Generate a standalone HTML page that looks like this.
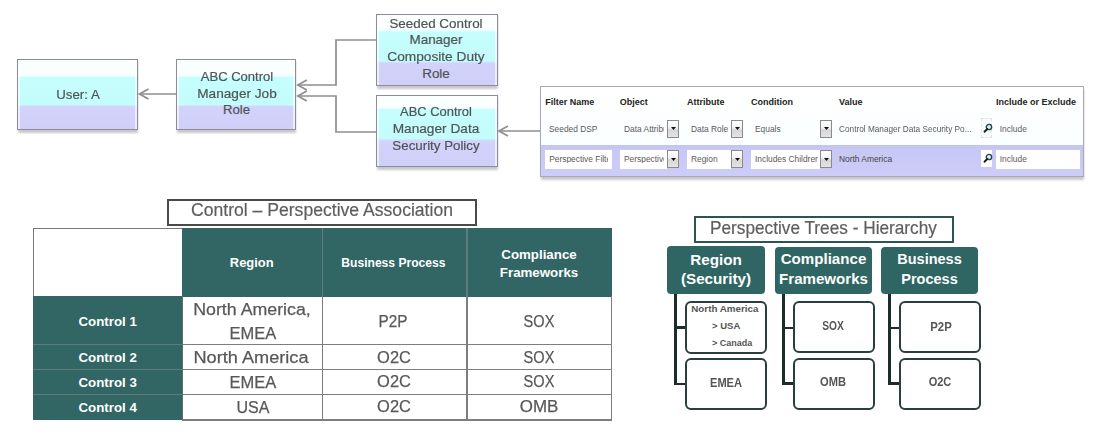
<!DOCTYPE html>
<html><head><meta charset="utf-8"><style>
html,body{margin:0;padding:0;}
body{width:1101px;height:436px;position:relative;overflow:hidden;background:#fff;font-family:"Liberation Sans",sans-serif;}
.t{position:absolute;line-height:1;white-space:nowrap;}
.r{position:absolute;}
svg.r{overflow:visible;}
</style></head><body>
<div class="r" style="left:18px;top:61px;width:120px;height:72px;background:#c8c8cc;filter:blur(0.8px);"></div>
<div class="r" style="left:17px;top:59px;width:121px;height:71px;background:linear-gradient(to bottom,#fcffff 0%,#f8fefe 22.4%,#c6fefe 25.4%,#c4fcfc 64.7%,#d2d2fc 67.7%,#cfcff8 100%);border:1.5px solid #8c8c9a;box-sizing:border-box;box-shadow:inset 3px 0 0 -1px rgba(255,255,255,.6), inset -3px 0 0 -1px rgba(255,255,255,.6);"></div>
<div class="t" style="left:7.5px;top:87.5px;width:140px;text-align:center;font-size:13.4px;font-weight:400;color:#4f5555;transform:scaleX(0.991);transform-origin:center top;-webkit-text-stroke:0.2px #4f5555;">User: A</div>
<div class="r" style="left:177px;top:61px;width:119px;height:72px;background:#c8c8cc;filter:blur(0.8px);"></div>
<div class="r" style="left:176px;top:59px;width:120px;height:71px;background:linear-gradient(to bottom,#fcffff 0%,#f8fefe 22.4%,#c6fefe 25.4%,#c4fcfc 64.7%,#d2d2fc 67.7%,#cfcff8 100%);border:1.5px solid #8c8c9a;box-sizing:border-box;box-shadow:inset 3px 0 0 -1px rgba(255,255,255,.6), inset -3px 0 0 -1px rgba(255,255,255,.6);"></div>
<div class="t" style="left:166.5px;top:70.2px;width:140px;text-align:center;font-size:13.2px;font-weight:400;color:#4f5555;transform:scaleX(0.988);transform-origin:center top;-webkit-text-stroke:0.2px #4f5555;">ABC Control</div>
<div class="t" style="left:166.5px;top:86.7px;width:140px;text-align:center;font-size:13.2px;font-weight:400;color:#4f5555;transform:scaleX(1.033);transform-origin:center top;-webkit-text-stroke:0.2px #4f5555;">Manager Job</div>
<div class="t" style="left:166.5px;top:103.2px;width:140px;text-align:center;font-size:13.2px;font-weight:400;color:#4f5555;-webkit-text-stroke:0.2px #4f5555;">Role</div>
<div class="r" style="left:377px;top:16px;width:121px;height:73px;background:#c8c8cc;filter:blur(0.8px);"></div>
<div class="r" style="left:376px;top:14px;width:122px;height:72px;background:linear-gradient(to bottom,#fcffff 0%,#f8fefe 21.4%,#c6fefe 24.4%,#c4fcfc 65.9%,#d2d2fc 68.9%,#cfcff8 100%);border:1.5px solid #8c8c9a;box-sizing:border-box;box-shadow:inset 3px 0 0 -1px rgba(255,255,255,.6), inset -3px 0 0 -1px rgba(255,255,255,.6);"></div>
<div class="t" style="left:366.0px;top:16.7px;width:140px;text-align:center;font-size:13.4px;font-weight:400;color:#4f5555;transform:scaleX(1.001);transform-origin:center top;-webkit-text-stroke:0.2px #4f5555;">Seeded Control</div>
<div class="t" style="left:366.0px;top:33.3px;width:140px;text-align:center;font-size:13.4px;font-weight:400;color:#4f5555;-webkit-text-stroke:0.2px #4f5555;">Manager</div>
<div class="t" style="left:366.0px;top:49.9px;width:140px;text-align:center;font-size:13.4px;font-weight:400;color:#4f5555;transform:scaleX(1.023);transform-origin:center top;-webkit-text-stroke:0.2px #4f5555;">Composite Duty</div>
<div class="t" style="left:366.0px;top:66.5px;width:140px;text-align:center;font-size:13.4px;font-weight:400;color:#4f5555;-webkit-text-stroke:0.2px #4f5555;">Role</div>
<div class="r" style="left:377px;top:97px;width:121px;height:73px;background:#c8c8cc;filter:blur(0.8px);"></div>
<div class="r" style="left:376px;top:95px;width:122px;height:72px;background:linear-gradient(to bottom,#fcffff 0%,#f8fefe 16.6%,#c6fefe 19.6%,#c4fcfc 61.0%,#d2d2fc 64.0%,#cfcff8 100%);border:1.5px solid #8c8c9a;box-sizing:border-box;box-shadow:inset 3px 0 0 -1px rgba(255,255,255,.6), inset -3px 0 0 -1px rgba(255,255,255,.6);"></div>
<div class="t" style="left:366.0px;top:105.4px;width:140px;text-align:center;font-size:13.4px;font-weight:400;color:#4f5555;transform:scaleX(0.965);transform-origin:center top;-webkit-text-stroke:0.2px #4f5555;">ABC Control</div>
<div class="t" style="left:366.0px;top:122.0px;width:140px;text-align:center;font-size:13.4px;font-weight:400;color:#4f5555;transform:scaleX(1.021);transform-origin:center top;-webkit-text-stroke:0.2px #4f5555;">Manager Data</div>
<div class="t" style="left:366.0px;top:138.6px;width:140px;text-align:center;font-size:13.4px;font-weight:400;color:#4f5555;transform:scaleX(0.994);transform-origin:center top;-webkit-text-stroke:0.2px #4f5555;">Security Policy</div>
<svg class="r" style="left:0;top:0" width="1101" height="436"><polyline points="176,94 140,94" fill="none" stroke="#8e8e8e" stroke-width="1.7"/><polyline points="148.5,89 139.5,94 148.5,99" fill="none" stroke="#8e8e8e" stroke-width="1.7"/><polyline points="376,40 336,40 336,85 298,85" fill="none" stroke="#8e8e8e" stroke-width="1.7"/><polyline points="306.8,80 297.8,85 306.8,90" fill="none" stroke="#8e8e8e" stroke-width="1.7"/><polyline points="376,132 336,132 336,96 298,96" fill="none" stroke="#8e8e8e" stroke-width="1.7"/><polyline points="306.8,91 297.8,96 306.8,101" fill="none" stroke="#8e8e8e" stroke-width="1.7"/><polyline points="541,131 500,131" fill="none" stroke="#8e8e8e" stroke-width="1.7"/><polyline points="508,126 499,131 508,136" fill="none" stroke="#8e8e8e" stroke-width="1.7"/></svg>
<div class="r" style="left:541px;top:89px;width:543px;height:91px;background:#c8c8cc;filter:blur(0.8px);"></div>
<div class="r" style="left:540px;top:86px;width:544px;height:91px;background:linear-gradient(to bottom,#ffffff 0%,#fbffff 60%);border:1px solid #a8a8b4;box-sizing:border-box;"></div>
<div class="r" style="left:541px;top:144.5px;width:542px;height:31.5px;background:linear-gradient(to bottom,#c4c4f0 0,#c8c8f4 5px,#ceccf8 100%);"></div>
<div class="t" style="left:545.3px;top:98.0px;font-size:9px;font-weight:700;color:#222;">Filter Name</div>
<div class="t" style="left:619.8px;top:98.0px;font-size:9px;font-weight:700;color:#222;">Object</div>
<div class="t" style="left:687.0px;top:98.0px;font-size:9px;font-weight:700;color:#222;">Attribute</div>
<div class="t" style="left:751.0px;top:98.0px;font-size:9px;font-weight:700;color:#222;">Condition</div>
<div class="t" style="left:839.0px;top:98.0px;font-size:9px;font-weight:700;color:#222;">Value</div>
<div class="t" style="left:995.9px;top:98.0px;font-size:9px;font-weight:700;color:#222;">Include or Exclude</div>
<div class="t" style="left:549.0px;top:124.6px;font-size:8.4px;font-weight:400;color:#5a5a5a;">Seeded DSP</div>
<div class="t" style="left:624.0px;top:124.6px;font-size:8.4px;font-weight:400;color:#5a5a5a;width:40px;overflow:hidden;">Data Attribute</div>
<div class="t" style="left:691.0px;top:124.6px;font-size:8.4px;font-weight:400;color:#5a5a5a;">Data Role</div>
<div class="t" style="left:755.0px;top:124.6px;font-size:8.4px;font-weight:400;color:#5a5a5a;">Equals</div>
<div class="t" style="left:839.0px;top:124.6px;font-size:8.4px;font-weight:400;color:#5a5a5a;transform:scaleX(0.985);transform-origin:left top;">Control Manager Data Security Po...</div>
<div class="t" style="left:999.8px;top:124.6px;font-size:8.4px;font-weight:400;color:#5a5a5a;">Include</div>
<div class="r" style="left:545px;top:150px;width:67px;height:19px;background:#ffffff;"></div>
<div class="r" style="left:620px;top:150px;width:47px;height:19px;background:#ffffff;"></div>
<div class="r" style="left:687px;top:150px;width:44px;height:19px;background:#ffffff;"></div>
<div class="r" style="left:751px;top:150px;width:69px;height:19px;background:#ffffff;"></div>
<div class="r" style="left:996px;top:150px;width:84px;height:19px;background:#ffffff;"></div>
<div class="t" style="left:549.2px;top:155.0px;font-size:8.4px;font-weight:400;color:#5a5a5a;width:59px;overflow:hidden;white-space:nowrap;">Perspective Filter</div>
<div class="t" style="left:624.0px;top:155.0px;font-size:8.4px;font-weight:400;color:#5a5a5a;width:40px;overflow:hidden;">Perspective</div>
<div class="t" style="left:691.0px;top:155.0px;font-size:8.4px;font-weight:400;color:#5a5a5a;">Region</div>
<div class="t" style="left:755.0px;top:155.0px;font-size:8.4px;font-weight:400;color:#5a5a5a;width:63px;overflow:hidden;">Includes Children</div>
<div class="t" style="left:839.0px;top:155.0px;font-size:8.4px;font-weight:400;color:#444;">North America</div>
<div class="t" style="left:999.8px;top:155.0px;font-size:8.4px;font-weight:400;color:#5a5a5a;">Include</div>
<div class="r" style="left:667px;top:119.7px;width:12px;height:17.999999999999986px;background:linear-gradient(to bottom,#ffffff 0%,#f2f2f2 45%,#d6d6d6 55%,#e4e4e4 100%);border:1px solid #8a8a8a;box-sizing:border-box;"></div>
<svg class="r" style="left:670.5px;top:127.2px" width="6" height="4"><polygon points="0,0 5,0 2.5,3" fill="#111"/></svg>
<div class="r" style="left:667px;top:150.2px;width:12px;height:17.5px;background:linear-gradient(to bottom,#ffffff 0%,#f2f2f2 45%,#d6d6d6 55%,#e4e4e4 100%);border:1px solid #8a8a8a;box-sizing:border-box;"></div>
<svg class="r" style="left:670.5px;top:157.7px" width="6" height="4"><polygon points="0,0 5,0 2.5,3" fill="#111"/></svg>
<div class="r" style="left:731px;top:119.7px;width:12px;height:17.999999999999986px;background:linear-gradient(to bottom,#ffffff 0%,#f2f2f2 45%,#d6d6d6 55%,#e4e4e4 100%);border:1px solid #8a8a8a;box-sizing:border-box;"></div>
<svg class="r" style="left:734.5px;top:127.2px" width="6" height="4"><polygon points="0,0 5,0 2.5,3" fill="#111"/></svg>
<div class="r" style="left:731px;top:150.2px;width:12px;height:17.5px;background:linear-gradient(to bottom,#ffffff 0%,#f2f2f2 45%,#d6d6d6 55%,#e4e4e4 100%);border:1px solid #8a8a8a;box-sizing:border-box;"></div>
<svg class="r" style="left:734.5px;top:157.7px" width="6" height="4"><polygon points="0,0 5,0 2.5,3" fill="#111"/></svg>
<div class="r" style="left:820px;top:119.7px;width:12px;height:17.999999999999986px;background:linear-gradient(to bottom,#ffffff 0%,#f2f2f2 45%,#d6d6d6 55%,#e4e4e4 100%);border:1px solid #8a8a8a;box-sizing:border-box;"></div>
<svg class="r" style="left:823.5px;top:127.2px" width="6" height="4"><polygon points="0,0 5,0 2.5,3" fill="#111"/></svg>
<div class="r" style="left:820px;top:150.2px;width:12px;height:17.5px;background:linear-gradient(to bottom,#ffffff 0%,#f2f2f2 45%,#d6d6d6 55%,#e4e4e4 100%);border:1px solid #8a8a8a;box-sizing:border-box;"></div>
<svg class="r" style="left:823.5px;top:157.7px" width="6" height="4"><polygon points="0,0 5,0 2.5,3" fill="#111"/></svg>
<div class="r" style="left:981px;top:118px;width:11px;height:20px;background:#f7fafa;border:1px dashed #dde4e4;box-sizing:border-box;"></div>
<svg class="r" style="left:981.7px;top:122.2px" width="12" height="12"><circle cx="7" cy="5" r="2.7" fill="#d4eeee" stroke="#21424a" stroke-width="1.3"/><line x1="5.3" y1="7" x2="2.5" y2="9.7" stroke="#1a1a1a" stroke-width="1.9" stroke-linecap="round"/></svg>
<div class="r" style="left:981px;top:149.7px;width:11px;height:17.0px;background:#ffffff;"></div>
<svg class="r" style="left:981.7px;top:152.3px" width="12" height="12"><circle cx="7" cy="5" r="2.7" fill="#d4eeee" stroke="#21424a" stroke-width="1.3"/><line x1="5.3" y1="7" x2="2.5" y2="9.7" stroke="#1a1a1a" stroke-width="1.9" stroke-linecap="round"/></svg>
<div class="r" style="left:167px;top:199px;width:310px;height:26.5px;border:2px solid #4a4a4a;box-sizing:border-box;background:#fff;"></div>
<div class="t" style="left:191.3px;top:201.0px;font-size:18px;font-weight:400;color:#5e5e5e;transform:scaleX(0.977);transform-origin:left top;-webkit-text-stroke:0.2px #5e5e5e;">Control – Perspective Association</div>
<div class="r" style="left:33px;top:228px;width:579px;height:193px;background:#fff;"></div>
<div class="r" style="left:33px;top:228px;width:150px;height:68px;border-left:1.5px solid #777;border-top:1.5px solid #777;box-sizing:border-box;"></div>
<div class="r" style="left:182px;top:228px;width:430px;height:69px;background:#316664;"></div>
<div class="r" style="left:33px;top:296px;width:150px;height:124.30000000000001px;background:#316664;"></div>
<div class="r" style="left:183px;top:343.7px;width:429px;height:1.6000000000000227px;background:#7e7e7e;"></div>
<div class="r" style="left:33px;top:343.8px;width:150px;height:1.3999999999999773px;background:#5a7c7a;"></div>
<div class="r" style="left:183px;top:368.9px;width:429px;height:1.6000000000000227px;background:#7e7e7e;"></div>
<div class="r" style="left:33px;top:369.0px;width:150px;height:1.3999999999999773px;background:#5a7c7a;"></div>
<div class="r" style="left:183px;top:393.8px;width:429px;height:1.6000000000000227px;background:#7e7e7e;"></div>
<div class="r" style="left:33px;top:393.90000000000003px;width:150px;height:1.3999999999999773px;background:#5a7c7a;"></div>
<div class="r" style="left:183px;top:419px;width:429px;height:1.6000000000000227px;background:#7e7e7e;"></div>
<div class="r" style="left:610.6px;top:296px;width:1.6000000000000227px;height:124.60000000000002px;background:#7e7e7e;"></div>
<div class="r" style="left:181.5px;top:296px;width:1.6999999999999886px;height:124.60000000000002px;background:#56706e;"></div>
<div class="r" style="left:321.7px;top:228px;width:1.3999999999999773px;height:69px;background:#5e7f7d;"></div>
<div class="r" style="left:321.5px;top:297px;width:1.7999999999999545px;height:123.60000000000002px;background:#7e7e7e;"></div>
<div class="r" style="left:466.3px;top:228px;width:1.3999999999999773px;height:69px;background:#5e7f7d;"></div>
<div class="r" style="left:466.1px;top:297px;width:1.7999999999999545px;height:123.60000000000002px;background:#7e7e7e;"></div>
<div class="t" style="left:181.7px;top:256.9px;width:140px;text-align:center;font-size:12.9px;font-weight:700;color:#fff;">Region</div>
<div class="t" style="left:323.4px;top:257.3px;width:140px;text-align:center;font-size:12.1px;font-weight:700;color:#fff;">Business Process</div>
<div class="t" style="left:469.0px;top:247.5px;width:140px;text-align:center;font-size:13.3px;font-weight:700;color:#fff;">Compliance</div>
<div class="t" style="left:469.0px;top:265.9px;width:140px;text-align:center;font-size:13.3px;font-weight:700;color:#fff;">Frameworks</div>
<div class="t" style="left:37.7px;top:314.7px;width:140px;text-align:center;font-size:13.3px;font-weight:700;color:#fff;">Control 1</div>
<div class="t" style="left:37.7px;top:350.7px;width:140px;text-align:center;font-size:13.3px;font-weight:700;color:#fff;">Control 2</div>
<div class="t" style="left:37.7px;top:376.2px;width:140px;text-align:center;font-size:13.3px;font-weight:700;color:#fff;">Control 3</div>
<div class="t" style="left:37.7px;top:401.2px;width:140px;text-align:center;font-size:13.3px;font-weight:700;color:#fff;">Control 4</div>
<div class="t" style="left:172.2px;top:301.2px;width:160px;text-align:center;font-size:17.4px;font-weight:400;color:#585858;transform:scaleX(1.022);transform-origin:center top;-webkit-text-stroke:0.25px #585858;">North America,</div>
<div class="t" style="left:172.6px;top:325.0px;width:160px;text-align:center;font-size:17.4px;font-weight:400;color:#585858;transform:scaleX(0.949);transform-origin:center top;-webkit-text-stroke:0.25px #585858;">EMEA</div>
<div class="t" style="left:170.5px;top:348.8px;width:160px;text-align:center;font-size:17.4px;font-weight:400;color:#585858;transform:scaleX(1.044);transform-origin:center top;-webkit-text-stroke:0.25px #585858;">North America</div>
<div class="t" style="left:172.6px;top:373.5px;width:160px;text-align:center;font-size:17.4px;font-weight:400;color:#585858;transform:scaleX(0.949);transform-origin:center top;-webkit-text-stroke:0.25px #585858;">EMEA</div>
<div class="t" style="left:172.5px;top:398.7px;width:160px;text-align:center;font-size:17.4px;font-weight:400;color:#585858;transform:scaleX(0.923);transform-origin:center top;-webkit-text-stroke:0.25px #585858;">USA</div>
<div class="t" style="left:322.8px;top:312.8px;width:140px;text-align:center;font-size:17.4px;font-weight:400;color:#585858;transform:scaleX(0.879);transform-origin:center top;-webkit-text-stroke:0.25px #585858;">P2P</div>
<div class="t" style="left:323.8px;top:348.6px;width:140px;text-align:center;font-size:17.4px;font-weight:400;color:#585858;transform:scaleX(0.945);transform-origin:center top;-webkit-text-stroke:0.25px #585858;">O2C</div>
<div class="t" style="left:323.8px;top:373.0px;width:140px;text-align:center;font-size:17.4px;font-weight:400;color:#585858;transform:scaleX(0.945);transform-origin:center top;-webkit-text-stroke:0.25px #585858;">O2C</div>
<div class="t" style="left:323.8px;top:397.8px;width:140px;text-align:center;font-size:17.4px;font-weight:400;color:#585858;transform:scaleX(0.945);transform-origin:center top;-webkit-text-stroke:0.25px #585858;">O2C</div>
<div class="t" style="left:468.6px;top:312.8px;width:140px;text-align:center;font-size:17.4px;font-weight:400;color:#585858;transform:scaleX(0.838);transform-origin:center top;-webkit-text-stroke:0.25px #585858;">SOX</div>
<div class="t" style="left:468.6px;top:348.6px;width:140px;text-align:center;font-size:17.4px;font-weight:400;color:#585858;transform:scaleX(0.838);transform-origin:center top;-webkit-text-stroke:0.25px #585858;">SOX</div>
<div class="t" style="left:468.6px;top:373.0px;width:140px;text-align:center;font-size:17.4px;font-weight:400;color:#585858;transform:scaleX(0.838);transform-origin:center top;-webkit-text-stroke:0.25px #585858;">SOX</div>
<div class="t" style="left:468.9px;top:397.8px;width:140px;text-align:center;font-size:17.4px;font-weight:400;color:#585858;transform:scaleX(0.974);transform-origin:center top;-webkit-text-stroke:0.25px #585858;">OMB</div>
<div class="r" style="left:694px;top:216px;width:259.5px;height:26.5px;border:2px solid #2f5252;box-sizing:border-box;background:#fff;"></div>
<div class="t" style="left:710.0px;top:219.8px;font-size:17.7px;font-weight:400;color:#5e5e5e;transform:scaleX(0.974);transform-origin:left top;-webkit-text-stroke:0.2px #5e5e5e;">Perspective Trees - Hierarchy</div>
<div class="r" style="left:667px;top:246px;width:98px;height:48px;background:#2f6664;border-radius:4px;"></div>
<div class="t" style="left:646.0px;top:252.1px;width:140px;text-align:center;font-size:15.2px;font-weight:700;color:#fff;">Region</div>
<div class="t" style="left:646.0px;top:271.1px;width:140px;text-align:center;font-size:15.2px;font-weight:700;color:#fff;">(Security)</div>
<div class="r" style="left:775px;top:247px;width:97px;height:47px;background:#2f6664;border-radius:4px;"></div>
<div class="t" style="left:753.5px;top:251.4px;width:140px;text-align:center;font-size:15.1px;font-weight:700;color:#fff;">Compliance</div>
<div class="t" style="left:753.5px;top:270.9px;width:140px;text-align:center;font-size:15.1px;font-weight:700;color:#fff;">Frameworks</div>
<div class="r" style="left:881px;top:247px;width:97px;height:47px;background:#2f6664;border-radius:4px;"></div>
<div class="t" style="left:859.5px;top:252.3px;width:140px;text-align:center;font-size:14.5px;font-weight:700;color:#fff;">Business</div>
<div class="t" style="left:859.5px;top:272.1px;width:140px;text-align:center;font-size:14.5px;font-weight:700;color:#fff;">Process</div>
<div class="r" style="left:674.35px;top:294px;width:2.2999999999999545px;height:91px;background:#1d2b2b;"></div>
<div class="r" style="left:675px;top:326.35px;width:11px;height:2.2999999999999545px;background:#1d2b2b;"></div>
<div class="r" style="left:675px;top:382.85px;width:11px;height:2.2999999999999545px;background:#1d2b2b;"></div>
<div class="r" style="left:685px;top:301px;width:82px;height:52.5px;border:2.5px solid #2a3e3e;border-radius:6px;box-sizing:border-box;background:#fff;"></div>
<div class="r" style="left:685px;top:357.5px;width:82px;height:52.0px;border:2.5px solid #2a3e3e;border-radius:6px;box-sizing:border-box;background:#fff;"></div>
<div class="r" style="left:782.35px;top:294px;width:2.2999999999999545px;height:90.5px;background:#1d2b2b;"></div>
<div class="r" style="left:783px;top:326.55px;width:11px;height:2.2999999999999545px;background:#1d2b2b;"></div>
<div class="r" style="left:783px;top:382.25px;width:11px;height:2.2999999999999545px;background:#1d2b2b;"></div>
<div class="r" style="left:793px;top:301px;width:82px;height:52px;border:2.5px solid #2a3e3e;border-radius:6px;box-sizing:border-box;background:#fff;"></div>
<div class="r" style="left:793px;top:357.5px;width:82px;height:52.0px;border:2.5px solid #2a3e3e;border-radius:6px;box-sizing:border-box;background:#fff;"></div>
<div class="r" style="left:888.35px;top:294px;width:2.2999999999999545px;height:90.5px;background:#1d2b2b;"></div>
<div class="r" style="left:889px;top:326.85px;width:11px;height:2.2999999999999545px;background:#1d2b2b;"></div>
<div class="r" style="left:889px;top:382.25px;width:11px;height:2.2999999999999545px;background:#1d2b2b;"></div>
<div class="r" style="left:899px;top:301px;width:82px;height:52px;border:2.5px solid #2a3e3e;border-radius:6px;box-sizing:border-box;background:#fff;"></div>
<div class="r" style="left:899px;top:357.5px;width:82px;height:52.0px;border:2.5px solid #2a3e3e;border-radius:6px;box-sizing:border-box;background:#fff;"></div>
<div class="t" style="left:691.3px;top:304.1px;font-size:9.8px;font-weight:700;color:#555555;">North America</div>
<div class="t" style="left:712.0px;top:321.3px;font-size:9.5px;font-weight:700;color:#555555;">&gt; USA</div>
<div class="t" style="left:712.0px;top:339.3px;font-size:9.0px;font-weight:700;color:#555555;">&gt; Canada</div>
<div class="t" style="left:686.0px;top:376.5px;width:80px;text-align:center;font-size:12.4px;font-weight:700;color:#555555;transform:scaleX(0.894);transform-origin:center top;">EMEA</div>
<div class="t" style="left:792.6px;top:321.3px;width:80px;text-align:center;font-size:11.9px;font-weight:700;color:#555555;transform:scaleX(0.860);transform-origin:center top;">SOX</div>
<div class="t" style="left:792.6px;top:376.5px;width:80px;text-align:center;font-size:11.9px;font-weight:700;color:#555555;transform:scaleX(0.937);transform-origin:center top;">OMB</div>
<div class="t" style="left:900.6px;top:321.6px;width:80px;text-align:center;font-size:11.9px;font-weight:700;color:#555555;transform:scaleX(0.956);transform-origin:center top;">P2P</div>
<div class="t" style="left:899.7px;top:376.8px;width:80px;text-align:center;font-size:11.9px;font-weight:700;color:#555555;transform:scaleX(0.928);transform-origin:center top;">O2C</div>
</body></html>
